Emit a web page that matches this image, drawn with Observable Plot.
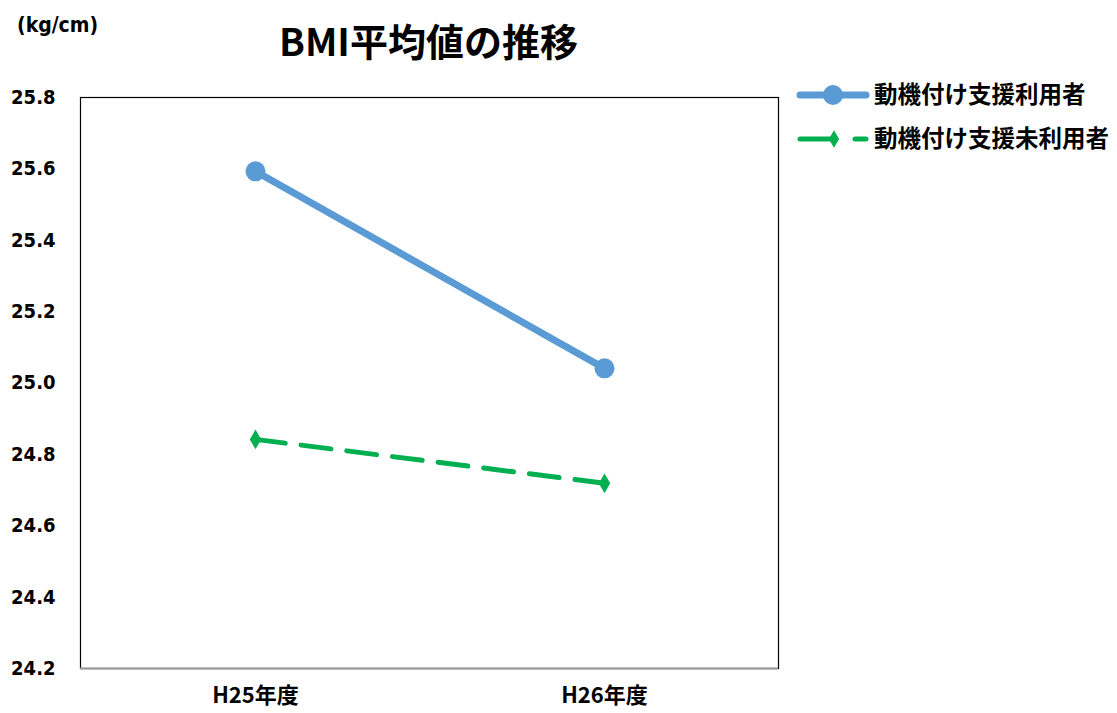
<!DOCTYPE html>
<html><head><meta charset="utf-8">
<script src="https://cdn.jsdelivr.net/npm/d3@7"></script>
<script src="https://cdn.jsdelivr.net/npm/@observablehq/plot@0.6"></script>
<style>
body{margin:0;background:#fff;}
#wrap{position:relative;width:1117px;height:713px;overflow:hidden;}
#title{position:absolute;left:0;width:857px;top:14px;text-align:center;font-family:"Noto Sans CJK JP",sans-serif;font-weight:700;font-size:38px;line-height:52px;color:#000;}
#unit{position:absolute;left:17px;top:13px;font-family:"Liberation Sans Narrow","DejaVu Sans Condensed",sans-serif;font-weight:700;font-size:21px;color:#000;}
#legend{position:absolute;left:0;top:0;}
</style></head>
<body><div id="wrap"><div id="unit">(kg/cm)</div><div id="title">BMI平均値の推移</div></div>
<script>
const years = ["H25年度","H26年度"];
const seriesNames = ["動機付け支援利用者","動機付け支援未利用者"];
const usersValues = [25.593, 25.041];
const nonUsersValues = [24.842, 24.719];
const yTicks = [24.2,24.4,24.6,24.8,25.0,25.2,25.4,25.6,25.8];

const blue = "#5b9bd5", green = "#00b050";
const data = [];
years.forEach((y,i)=>{
  data.push({year:y, value:usersValues[i], series:seriesNames[0]});
  data.push({year:y, value:nonUsersValues[i], series:seriesNames[1]});
});
const users = data.filter(d=>d.series===seriesNames[0]);
const nonUsers = data.filter(d=>d.series===seriesNames[1]);

const chart = Plot.plot({
  width:1117, height:713,
  marginLeft:80, marginRight:339, marginTop:97, marginBottom:45,
  style:{fontFamily:'"Liberation Sans Narrow","DejaVu Sans Condensed",sans-serif', fontSize:"19px", fontWeight:"bold", color:"#000", background:"transparent", overflow:"visible"},
  x:{type:"point", domain:years, padding:0.5, label:null},
  y:{domain:[24.2,25.8], label:null},
  marks:[
    Plot.frame({stroke:"#000", strokeWidth:1.2}),
    Plot.ruleY([24.2],{stroke:"#999", strokeWidth:2}),
    Plot.axisY({ticks:yTicks, tickFormat:d3.format(".1f"), tickSize:0, tickPadding:25, fontSize:20, fontWeight:"bold", label:null}),
    Plot.axisX({tickSize:0, tickPadding:19, fontSize:22, fontWeight:"bold", label:null, fontFamily:'"Noto Sans CJK JP",sans-serif'}),
    Plot.line(users,{x:"year", y:"value", stroke:blue, strokeWidth:7}),
    Plot.dot(users,{x:"year", y:"value", fill:blue, r:10}),
    Plot.line(nonUsers,{x:"year", y:"value", stroke:green, strokeWidth:5, strokeDasharray:"30,16"}),
    Plot.dot(nonUsers,{x:"year", y:"value", fill:green, symbol:"diamond", r:6})
  ]
});
chart.style.position="absolute"; chart.style.left="0"; chart.style.top="0";
const wrap = document.getElementById("wrap");
wrap.insertBefore(chart, wrap.firstChild);

// legend
const lg=d3.create("svg").attr("id","legend").attr("width",1117).attr("height",713)
  .style("position","absolute").style("left","0").style("top","0");
lg.append("line").attr("x1",800).attr("x2",866).attr("y1",95).attr("y2",95).attr("stroke",blue).attr("stroke-width",7).attr("stroke-linecap","round");
lg.append("circle").attr("cx",833).attr("cy",95).attr("r",10).attr("fill",blue);
lg.append("line").attr("x1",800).attr("x2",830).attr("y1",139).attr("y2",139).attr("stroke",green).attr("stroke-width",5).attr("stroke-linecap","round");
lg.append("line").attr("x1",855).attr("x2",866).attr("y1",139).attr("y2",139).attr("stroke",green).attr("stroke-width",5).attr("stroke-linecap","round");
lg.append("path").attr("d",d3.symbol(d3.symbolDiamond,90)()).attr("transform","translate(834,139)").attr("fill",green);
seriesNames.forEach((n,i)=>{
  lg.append("text").attr("x",874).attr("y",95+i*44).attr("dy","0.35em")
    .attr("font-family",'"Noto Sans CJK JP",sans-serif').attr("font-weight",700).attr("font-size",23.5).attr("fill","#000").text(n);
});
wrap.appendChild(lg.node());
</script></body></html>
